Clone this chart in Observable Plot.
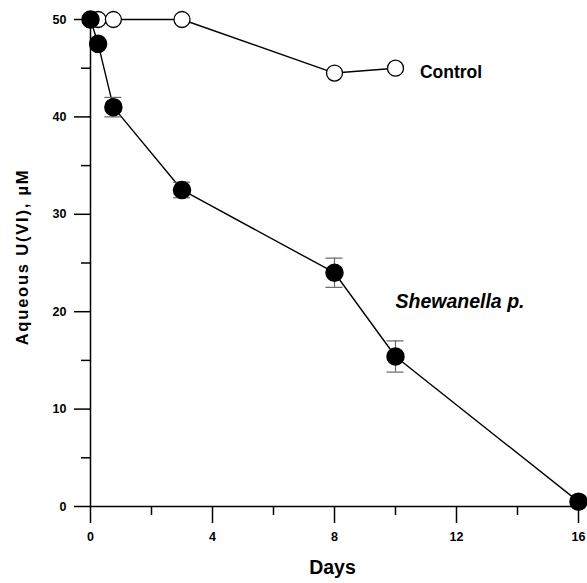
<!DOCTYPE html>
<html>
<head>
<meta charset="utf-8">
<script src="https://cdn.jsdelivr.net/npm/d3@7"></script>
<script src="https://cdn.jsdelivr.net/npm/@observablehq/plot@0.6"></script>
<style>
  html, body { margin: 0; padding: 0; background: #fff; }
  #chart svg { display: block; font-family: "Liberation Sans", Arial, sans-serif; }
</style>
</head>
<body>
<div id="chart"></div>
<script>
// Control (open circles)
const controlDays = [0, 0.25, 0.75, 3, 8, 10];
const controlUVI  = [50, 50, 50, 50, 44.5, 45];

// Shewanella p. (filled circles)
const shewDays = [0, 0.25, 0.75, 3, 8, 10, 16];
const shewUVI  = [50, 47.5, 41, 32.5, 24, 15.4, 0.5];
const shewErr  = [0, 0, 1.0, 0.8, 1.5, 1.6, 0];

const xMajorTicks = [0, 4, 8, 12, 16];
const xMinorTicks = [2, 6, 10, 14];
const yMajorTicks = [0, 10, 20, 30, 40, 50];
const yMinorTicks = [5, 15, 25, 35, 45];

const control = controlDays.map((d, i) => ({day: d, v: controlUVI[i]}));
const shew = shewDays.map((d, i) => ({day: d, v: shewUVI[i], e: shewErr[i]}));
const shewErrPts = shew.filter(d => d.e > 0);
const capHalf = 0.28;

const chart = Plot.plot({
  width: 587,
  height: 583,
  marginLeft: 90,
  marginRight: 9,
  marginTop: 19,
  marginBottom: 77,
  style: {fontFamily: "'Liberation Sans', Arial, sans-serif", background: "#fff"},
  x: {domain: [0, 16]},
  y: {domain: [0, 50]},
  marks: [
    // axes lines
    Plot.ruleX([0], {y1: 0, y2: 50, stroke: "black", strokeWidth: 1.5}),
    Plot.ruleY([0], {x1: 0, x2: 16, stroke: "black", strokeWidth: 1.5}),
    Plot.axisY({ticks: yMajorTicks, tickSize: 16, tickPadding: 8, label: null,
      fontSize: 12.5, fontWeight: "bold", strokeWidth: 1.5}),
    Plot.axisY({ticks: yMinorTicks, tickSize: 9, tickFormat: () => "", label: null, strokeWidth: 1.5}),
    Plot.axisX({ticks: xMajorTicks, tickSize: 17, tickPadding: 9, label: null,
      fontSize: 12.5, fontWeight: "bold", strokeWidth: 1.5}),
    Plot.axisX({ticks: xMinorTicks, tickSize: 9, tickFormat: () => "", label: null, strokeWidth: 1.5}),
    // axis titles
    Plot.text(["Aqueous U(VI), \u00b5M"], {frameAnchor: "left", textAnchor: "middle", rotate: -90, dx: -68, dy: -6,
      fontSize: 16.5, fontWeight: "bold", fill: "black"}),
    Plot.text(["Days"], {frameAnchor: "bottom", dy: 67, dx: -2, fontSize: 19.5, fontWeight: "bold", fill: "black"}),
    // control series
    Plot.line(control, {x: "day", y: "v", stroke: "black", strokeWidth: 1.4}),
    Plot.dot(control, {x: "day", y: "v", r: 8, fill: "white", stroke: "black", strokeWidth: 1.3}),
    // shewanella series
    Plot.line(shew, {x: "day", y: "v", stroke: "black", strokeWidth: 1.4}),
    Plot.ruleX(shewErrPts, {x: "day", y1: d => d.v - d.e, y2: d => d.v + d.e, stroke: "#666", strokeWidth: 1.2}),
    Plot.ruleY(shewErrPts, {y: d => d.v - d.e, x1: d => d.day - capHalf, x2: d => d.day + capHalf, stroke: "#666", strokeWidth: 1.2}),
    Plot.ruleY(shewErrPts, {y: d => d.v + d.e, x1: d => d.day - capHalf, x2: d => d.day + capHalf, stroke: "#666", strokeWidth: 1.2}),
    Plot.dot(shew, {x: "day", y: "v", r: 8.5, fill: "black", stroke: "black"}),
    // series labels
    Plot.text(["Control"], {x: 10.8, y: 44.6, textAnchor: "start", fontSize: 17.5, fontWeight: "bold", fill: "black"}),
    Plot.text(["Shewanella p."], {x: 10.0, y: 21, textAnchor: "start", fontSize: 19.5, fontWeight: "bold", fontStyle: "italic", fill: "black"})
  ]
});
d3.select(chart).selectAll("text")
  .filter(function () { return this.textContent.startsWith("Aqueous"); })
  .attr("letter-spacing", "1.8px");
document.getElementById("chart").appendChild(chart);
</script>
</body>
</html>
